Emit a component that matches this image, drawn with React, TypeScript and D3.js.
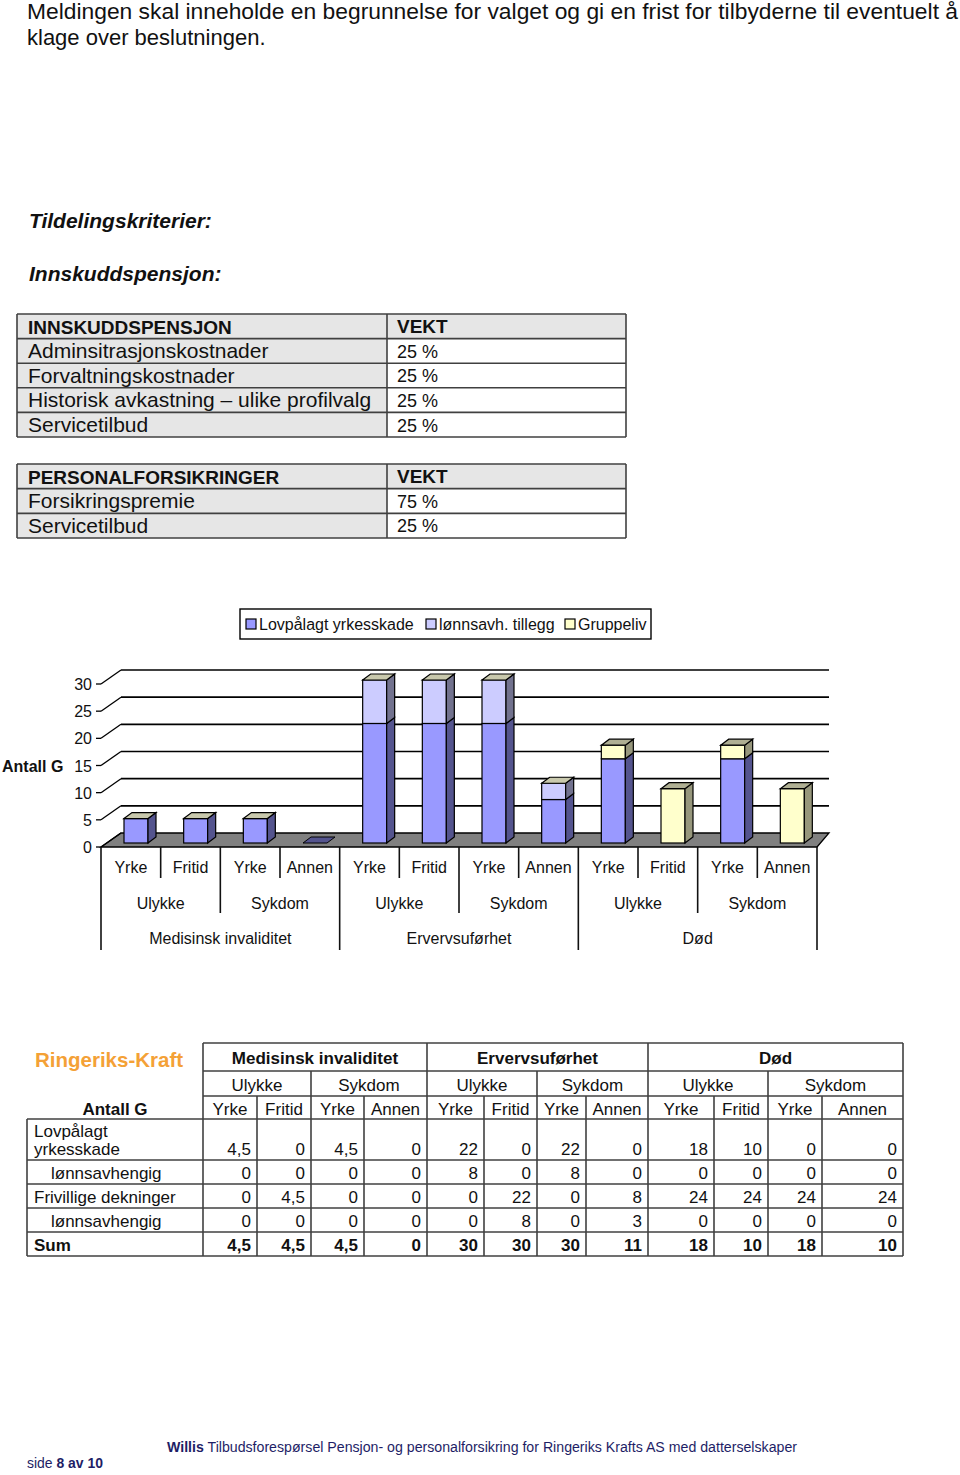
import React from 'react';
import * as d3 from 'd3';

// ---------- text content ----------
const introLines = [
  'Meldingen skal inneholde en begrunnelse for valget og gi en frist for tilbyderne til eventuelt å',
  'klage over beslutningen.',
];
const headingCriteria = 'Tildelingskriterier:';
const headingInnskudd = 'Innskuddspensjon:';

const innskuddHeader = ['INNSKUDDSPENSJON', 'VEKT'];
const innskuddCriteria = [
  'Adminsitrasjonskostnader',
  'Forvaltningskostnader',
  'Historisk avkastning – ulike profilvalg',
  'Servicetilbud',
];
const innskuddWeights = ['25 %', '25 %', '25 %', '25 %'];

const personalHeader = ['PERSONALFORSIKRINGER', 'VEKT'];
const personalCriteria = ['Forsikringspremie', 'Servicetilbud'];
const personalWeights = ['75 %', '25 %'];

// ---------- chart data ----------
const seriesNames = ['Lovpålagt yrkesskade', 'lønnsavh. tillegg', 'Gruppeliv'];
const catLevel1 = ['Yrke', 'Fritid', 'Yrke', 'Annen', 'Yrke', 'Fritid', 'Yrke', 'Annen', 'Yrke', 'Fritid', 'Yrke', 'Annen'];
const catLevel2 = ['Ulykke', 'Sykdom', 'Ulykke', 'Sykdom', 'Ulykke', 'Sykdom'];
const catLevel3 = ['Medisinsk invaliditet', 'Ervervsuførhet', 'Død'];
const lovpalagtValues = [4.5, 4.5, 4.5, 0, 22, 22, 22, 8, 15.5, 0, 15.5, 0];
const lonnsavhValues = [0, 0, 0, 0, 8, 8, 8, 3, 0, 0, 0, 0];
const gruppelivValues = [0, 0, 0, 0, 0, 0, 0, 0, 2.5, 10, 2.5, 10];
const yTicks = [0, 5, 10, 15, 20, 25, 30];
const yAxisTitle = 'Antall G';

// ---------- bottom table ----------
const companyName = 'Ringeriks-Kraft';
const tableGroups = ['Medisinsk invaliditet', 'Ervervsuførhet', 'Død'];
const tableSubGroups = ['Ulykke', 'Sykdom', 'Ulykke', 'Sykdom', 'Ulykke', 'Sykdom'];
const tableCols = ['Yrke', 'Fritid', 'Yrke', 'Annen', 'Yrke', 'Fritid', 'Yrke', 'Annen', 'Yrke', 'Fritid', 'Yrke', 'Annen'];
const tableCorner = 'Antall G';
const rowLabels = [['Lovpålagt', 'yrkesskade'], ['lønnsavhengig'], ['Frivillige dekninger'], ['lønnsavhengig'], ['Sum']];
const rowLovpalagt = ['4,5', '0', '4,5', '0', '22', '0', '22', '0', '18', '10', '0', '0'];
const rowLonn1 = ['0', '0', '0', '0', '8', '0', '8', '0', '0', '0', '0', '0'];
const rowFrivillige = ['0', '4,5', '0', '0', '0', '22', '0', '8', '24', '24', '24', '24'];
const rowLonn2 = ['0', '0', '0', '0', '0', '8', '0', '3', '0', '0', '0', '0'];
const rowSum = ['4,5', '4,5', '4,5', '0', '30', '30', '30', '11', '18', '10', '18', '10'];

const footerLeft = ['side ', '8', ' av ', '10'];
const footerRight = ['Willis', ' Tilbudsforespørsel  Pensjon- og personalforsikring for Ringeriks Krafts AS med datterselskaper'];

// ---------- styles ----------
const FONT = "'Liberation Sans', Arial, Helvetica, sans-serif";
const NARROW = "'Liberation Sans Narrow', 'Arial Narrow', 'Liberation Sans', sans-serif";
const frontColors = ['#9999FF', '#CCCCFF', '#FFFFCC'];
const sideColors = ['#54548E', '#72728E', '#97977C'];
const topColors = ['#C9C9AD', '#C9C9AD', '#AFAF93'];
const GRAY_CELL = '#E6E6E6';
const BORDER = '#404040';
const NAVY = '#1E1E66';

function CriteriaTable({ top, bottom, header, labels, weights }: any) {
  const rows = [header[0], ...labels];
  const L = 17, M = 387, R = 626;
  const yb = d3.scaleBand<number>().domain(d3.range(rows.length)).range([top, bottom]);
  const bw = yb.bandwidth();
  return (
    <g>
      {rows.map((r: string, i: number) => (
        <g key={i}>
          <rect x={L} y={yb(i)} width={M - L} height={bw} fill={GRAY_CELL} />
          <rect x={M} y={yb(i)} width={R - M} height={bw} fill={i === 0 ? GRAY_CELL : '#fff'} />
          <text x={28} y={(yb(i) as number) + bw / 2 + 7.3} fontSize={i === 0 ? 19 : 21}
            fontWeight={i === 0 ? 'bold' : 'normal'} fill="#111">{r}</text>
          <text x={397} y={(yb(i) as number) + bw / 2 + 6.8} fontSize={i === 0 ? 19 : 18}
            fontWeight={i === 0 ? 'bold' : 'normal'} fill="#111">{i === 0 ? header[1] : weights[i - 1]}</text>
        </g>
      ))}
      {d3.range(rows.length + 1).map((k) => {
        const y = k === rows.length ? bottom : (yb(k) as number);
        return <line key={'h' + k} x1={L} x2={R} y1={y} y2={y} stroke={BORDER} strokeWidth={1.6} />;
      })}
      {[L, M, R].map((x) => (
        <line key={'v' + x} x1={x} x2={x} y1={top} y2={bottom} stroke={BORDER} strokeWidth={1.6} />
      ))}
    </g>
  );
}

function BarChart() {
  const X0 = 101, X1 = 817;
  const x = d3.scaleBand<number>().domain(d3.range(catLevel1.length)).range([X0, X1]);
  const bw = x.bandwidth();
  const yFront = d3.scaleLinear().domain([0, 30]).range([847, 684]);
  const yBar = d3.scaleLinear().domain([0, 30]).range([843, 680]);
  const DX = 20, DY = 14;
  const BACK_RIGHT = 829;
  const BAR_OFF = 23, BAR_W = 24, BDX = 8, BDY = 6;

  const rows = catLevel1.map((_, i) => ({ a: lovpalagtValues[i], b: lonnsavhValues[i], c: gruppelivValues[i] }));
  const stacked = d3.stack<any>().keys(['a', 'b', 'c'])(rows);

  const poly = (pts: number[][]) => pts.map((p) => p.join(',')).join(' ');

  return (
    <g fontFamily={FONT}>
      {/* legend */}
      <rect x={240} y={609} width={411} height={30} fill="#fff" stroke="#000" strokeWidth={1.4} />
      {(() => {
        const starts = [246, 426, 565];
        return seriesNames.map((s, i) => (
          <g key={s}>
            <rect x={starts[i]} y={619} width={10} height={10} fill={frontColors[i]} stroke="#000" strokeWidth={1.2} />
            <text x={starts[i] + 13} y={629.5} fontSize={16} fill="#111">{s}</text>
          </g>
        ));
      })()}

      {/* axis title */}
      <text x={2} y={771.5} fontSize={16} fontWeight="bold" fill="#111">{yAxisTitle}</text>

      {/* floor */}
      <polygon points={poly([[X0, yFront(0)], [X1, yFront(0)], [BACK_RIGHT, yFront(0) - DY], [X0 + DX, yFront(0) - DY]])}
        fill="#808080" stroke="#000" strokeWidth={1.3} />

      {/* gridlines */}
      {yTicks.map((t) => (
        <g key={t}>
          {t > 0 && <line x1={X0 + DX} x2={BACK_RIGHT} y1={yFront(t) - DY} y2={yFront(t) - DY} stroke="#000" strokeWidth={1.7} />}
          <line x1={X0} y1={yFront(t)} x2={X0 + DX} y2={yFront(t) - DY} stroke="#000" strokeWidth={1.3} />
          <line x1={96} x2={X0} y1={yFront(t)} y2={yFront(t)} stroke="#000" strokeWidth={1.3} />
          <text x={92} y={yFront(t) + 6} fontSize={16} textAnchor="end" fill="#111">{t}</text>
        </g>
      ))}

      {/* bars */}
      {catLevel1.map((_, i) => {
        const bx = (x(i) as number) + BAR_OFF;
        const segs = stacked.map((s, k) => ({ k, y0: s[i][0], y1: s[i][1] })).filter((s) => s.y1 > s.y0);
        if (segs.length === 0) {
          const yy = yBar(0);
          return (
            <polygon key={i} points={poly([[bx, yy], [bx + BDX, yy - BDY], [bx + BAR_W + BDX, yy - BDY], [bx + BAR_W, yy]])}
              fill={sideColors[0]} stroke="#000" strokeWidth={1} />
          );
        }
        const topSeg = segs[segs.length - 1];
        const yt = yBar(topSeg.y1);
        return (
          <g key={i}>
            {segs.map((s) => {
              const ya = yBar(s.y0), yb = yBar(s.y1);
              return (
                <g key={s.k}>
                  <rect x={bx} y={yb} width={BAR_W} height={ya - yb} fill={frontColors[s.k]} stroke="#000" strokeWidth={1.2} />
                  <polygon points={poly([[bx + BAR_W, ya], [bx + BAR_W + BDX, ya - BDY], [bx + BAR_W + BDX, yb - BDY], [bx + BAR_W, yb]])}
                    fill={sideColors[s.k]} stroke="#000" strokeWidth={1.2} />
                </g>
              );
            })}
            <polygon points={poly([[bx, yt], [bx + BDX, yt - BDY], [bx + BAR_W + BDX, yt - BDY], [bx + BAR_W, yt]])}
              fill={topColors[topSeg.k]} stroke="#000" strokeWidth={1.2} />
          </g>
        );
      })}

      {/* multi-level category axis */}
      {d3.range(catLevel1.length + 1).map((k) => {
        const xx = X0 + k * bw;
        const yEnd = k % 4 === 0 ? 950 : k % 2 === 0 ? 913 : 878;
        return <line key={'c' + k} x1={xx} x2={xx} y1={yFront(0)} y2={yEnd} stroke="#111" strokeWidth={1.6} />;
      })}
      {catLevel1.map((c, i) => (
        <text key={'l1' + i} x={(x(i) as number) + bw / 2} y={873} fontSize={16} textAnchor="middle" fill="#111">{c}</text>
      ))}
      {catLevel2.map((c, j) => (
        <text key={'l2' + j} x={X0 + (2 * j + 1) * bw} y={908.5} fontSize={16} textAnchor="middle" fill="#111">{c}</text>
      ))}
      {catLevel3.map((c, j) => (
        <text key={'l3' + j} x={X0 + (4 * j + 2) * bw} y={943.5} fontSize={16} textAnchor="middle" fill="#111">{c}</text>
      ))}
    </g>
  );
}

function DataTable() {
  const edges = [203, 257, 311, 364, 427, 484, 537, 586, 648, 714, 768, 822, 903];
  const LEFT = 27;
  const hy = [1043, 1071, 1096, 1119];
  const dataEdges = [1119, 1160, 1184, 1208, 1232, 1256];
  const dataRows = [rowLovpalagt, rowLonn1, rowFrivillige, rowLonn2, rowSum];
  const line = (x1: number, y1: number, x2: number, y2: number, key: string) => (
    <line key={key} x1={x1} y1={y1} x2={x2} y2={y2} stroke={BORDER} strokeWidth={1.6} />
  );
  const els: any[] = [];
  els.push(line(edges[0], hy[0], edges[12], hy[0], 'h0'));
  els.push(line(edges[0], hy[1], edges[12], hy[1], 'h1'));
  els.push(line(edges[0], hy[2], edges[12], hy[2], 'h2'));
  dataEdges.forEach((y, i) => els.push(line(LEFT, y, edges[12], y, 'd' + i)));
  [0, 4, 8, 12].forEach((k) => els.push(line(edges[k], hy[0], edges[k], hy[1], 'v1' + k)));
  [0, 2, 4, 6, 8, 10, 12].forEach((k) => els.push(line(edges[k], hy[1], edges[k], hy[2], 'v2' + k)));
  edges.forEach((x, k) => els.push(line(x, hy[2], x, hy[3], 'v3' + k)));
  [LEFT, ...edges].forEach((x, k) => els.push(line(x, dataEdges[0], x, dataEdges[5], 'v4' + k)));

  return (
    <g fontFamily={FONT} fill="#111">
      <text x={35} y={1067} fontSize={20.5} fontWeight="bold" fill="#F4A136">{companyName}</text>
      {tableGroups.map((g, j) => (
        <text key={'g' + j} x={(edges[4 * j] + edges[4 * j + 4]) / 2} y={1064} fontSize={17} fontWeight="bold" textAnchor="middle">{g}</text>
      ))}
      {tableSubGroups.map((g, j) => (
        <text key={'s' + j} x={(edges[2 * j] + edges[2 * j + 2]) / 2} y={1090.5} fontSize={17} textAnchor="middle">{g}</text>
      ))}
      {tableCols.map((c, j) => (
        <text key={'c' + j} x={(edges[j] + edges[j + 1]) / 2} y={1114.5} fontSize={17} textAnchor="middle">{c}</text>
      ))}
      <text x={115} y={1114.5} fontSize={17} fontWeight="bold" textAnchor="middle">{tableCorner}</text>
      {rowLabels.map((lab, r) => {
        const yTop = dataEdges[r], yBot = dataEdges[r + 1];
        const base = yBot - 5;
        const indent = lab[0] === 'lønnsavhengig' ? 51 : 34;
        const bold = r === rowLabels.length - 1;
        return (
          <g key={'r' + r}>
            {lab.length === 2 ? (
              <>
                <text x={34} y={yTop + 18} fontSize={17}>{lab[0]}</text>
                <text x={34} y={base} fontSize={17}>{lab[1]}</text>
              </>
            ) : (
              <text x={indent} y={base} fontSize={17} fontWeight={bold ? 'bold' : 'normal'}>{lab[0]}</text>
            )}
            {dataRows[r].map((v, j) => (
              <text key={j} x={edges[j + 1] - 6} y={base} fontSize={17} textAnchor="end" fontWeight={bold ? 'bold' : 'normal'}>{v}</text>
            ))}
          </g>
        );
      })}
      {els}
    </g>
  );
}

export default function App() {
  return (
    <svg width={960} height={1475} style={{ position: 'absolute', left: 0, top: 0, background: '#fff' }} fontFamily={FONT}>
      <rect x={0} y={0} width={960} height={1475} fill="#fff" />
      <text x={27} y={18.5} fontSize={22} fill="#111" textLength={931} lengthAdjust="spacingAndGlyphs">{introLines[0]}</text>
      <text x={27} y={45} fontSize={22} fill="#111">{introLines[1]}</text>
      <text x={29} y={228} fontSize={21} fontWeight="bold" fontStyle="italic" fill="#111">{headingCriteria}</text>
      <text x={29} y={281} fontSize={21} fontWeight="bold" fontStyle="italic" fill="#111">{headingInnskudd}</text>

      <CriteriaTable top={314} bottom={437} header={innskuddHeader} labels={innskuddCriteria} weights={innskuddWeights} />
      <CriteriaTable top={464} bottom={538} header={personalHeader} labels={personalCriteria} weights={personalWeights} />

      <BarChart />
      <DataTable />

      <text x={27} y={1468} fontSize={15} fill={NAVY} fontFamily={NARROW} textLength={76} lengthAdjust="spacingAndGlyphs">
        <tspan>{footerLeft[0]}</tspan>
        <tspan fontWeight="bold">{footerLeft[1]}</tspan>
        <tspan fontWeight="bold">{footerLeft[2]}</tspan>
        <tspan fontWeight="bold">{footerLeft[3]}</tspan>
      </text>
      <text x={167} y={1451.5} fontSize={15.5} fill={NAVY} fontFamily={NARROW} textLength={630} lengthAdjust="spacingAndGlyphs">
        <tspan fontWeight="bold">{footerRight[0]}</tspan>
        <tspan>{footerRight[1]}</tspan>
      </text>
    </svg>
  );
}
